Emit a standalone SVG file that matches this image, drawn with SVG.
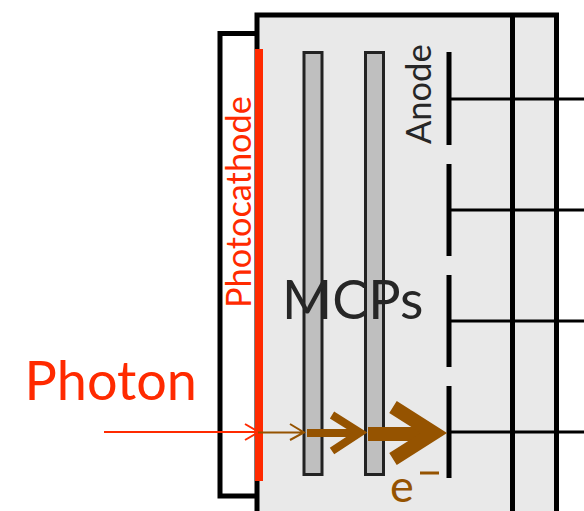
<svg xmlns="http://www.w3.org/2000/svg" width="584" height="511" viewBox="0 0 584 511">
<style>
.k{stroke:#000;fill:none}
.h{stroke:#000;fill:#e9e9e9}
.w{stroke:#000;stroke-width:3;fill:none}
.a{stroke:#000;stroke-width:5;fill:none}
.m{fill:#bfbfbf;stroke:#222;stroke-width:3}
.b{stroke:#955300;fill:none}
.r{stroke:#ff2a00;fill:none}
text{font-family:"Lato","Open Sans",sans-serif}
</style>
<rect width="584" height="511" fill="#fff"/>
<g id="housing">
<path d="M257 520V15H556.500V520" class="h" stroke-width="5"/>
<path d="M512.500 15V520" class="k" stroke-width="5"/>
</g>
<g id="window"><path d="M257 33.500H220V496H257" class="k" stroke-width="5"/></g>
<g id="photocathode">
<rect x="255" y="49" width="8" height="432" fill="#ff2a00"/>
<text transform="translate(251 308) rotate(-90)" font-size="34.300" fill="#ff2a00">Photocathode</text>
</g>
<g id="mcp1"><rect class="m" x="304" y="52.500" width="18" height="422"/></g>
<g id="mcp2"><rect class="m" x="365.500" y="52.500" width="18" height="422"/></g>
<g id="mcps-label"><text x="282" y="319" font-size="54" fill="#262626">MCPs</text></g>
<g id="anode">
<text transform="translate(431 144) rotate(-90)" font-size="34.500" fill="#262626">Anode</text>
<path class="a" d="M449 52V145M449 164V256M449 275V367M449 386V478"/>
</g>
<g id="photon-label"><text x="24.500" y="399.500" font-size="54" fill="#ff2a00">Photon</text></g>
<g id="electron-label"><text x="390" y="501.500" font-size="45" fill="#955300">e</text><path class="b" stroke-width="3" d="M420 473H439"/></g>
<g id="connectors">
<path class="w" d="M449 99H584M449 210H584M449 321H584M449 432H584"/>
<path class="r" stroke-width="2" d="M104 432H259M245 424L259 432L245 440"/>
<path class="b" stroke-width="2" d="M258 432.500H304M290 424L304 432.500L290 440"/>
<path class="b" stroke-width="8" d="M307 433H358"/><path class="b" stroke-width="8" d="M332 415L360 432.500L332 451"/>
<path class="b" stroke-width="14" d="M368 434H432"/><path class="b" stroke-width="14" d="M393 407L434 433L393 459"/>
</g>
</svg>
